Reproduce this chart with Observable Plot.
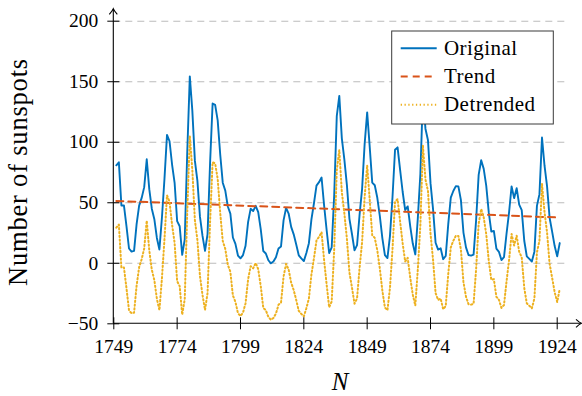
<!DOCTYPE html>
<html>
<head>
<meta charset="utf-8">
<script src="https://cdn.jsdelivr.net/npm/d3@7"></script>
<script src="https://cdn.jsdelivr.net/npm/@observablehq/plot@0.6"></script>
<style>
  html, body { margin: 0; padding: 0; background: white; }
  svg { display: block; }
  svg text { font-family: "Liberation Serif", "DejaVu Serif", serif !important; }
</style>
</head>
<body>
<div id="chart"></div>
<script>
// N values (positions along x) for the 176 yearly observations
const firstN = 1750;

// Original yearly sunspot numbers
const original = [
  80.9, 83.4, 47.7, 47.8, 30.7, 12.2, 9.6, 10.2, 32.4, 47.6, 54,
  62.9, 85.9, 61.2, 45.1, 36.4, 20.9, 11.4, 37.8, 69.8, 106.1,
  100.8, 81.6, 66.5, 34.8, 30.6, 7, 19.8, 92.5, 154.4, 125.9,
  84.8, 68.1, 38.5, 22.8, 10.2, 24.1, 82.9, 132, 130.9, 118.1,
  89.9, 66.6, 60, 46.9, 41, 21.3, 16, 6.4, 4.1, 6.8,
  14.5, 34, 45, 43.1, 47.5, 42.2, 28.1, 10.1, 8.1, 2.5,
  0, 1.4, 5, 12.2, 13.9, 35.4, 45.8, 41.1, 30.1, 23.9,
  15.6, 6.6, 4, 1.8, 8.5, 16.6, 36.3, 49.6, 64.2, 67,
  70.9, 47.8, 27.5, 8.5, 13.2, 56.9, 121.5, 138.3, 103.2, 85.7,
  64.6, 36.7, 24.2, 10.7, 15, 40.1, 61.5, 98.5, 124.7, 96.3,
  66.6, 64.5, 54.1, 39, 20.6, 6.7, 4.3, 22.7, 54.8, 93.8,
  95.8, 77.2, 59.1, 44, 47, 30.5, 16.3, 7.3, 37.6, 74,
  139, 111.2, 101.6, 66.2, 44.7, 17, 11.3, 12.4, 3.4, 6,
  32.3, 54.3, 59.7, 63.7, 63.5, 52.2, 25.4, 13.1, 6.8, 6.3,
  7.1, 35.6, 73, 85.1, 78, 64, 41.8, 26.2, 26.7, 12.1,
  9.5, 2.7, 5, 24.4, 42, 63.5, 53.8, 62, 48.5, 43.9,
  18.6, 5.7, 3.6, 1.4, 9.6, 47.4, 57.1, 103.9, 80.6, 63.6,
  37.6, 26.1, 14.2, 5.8, 16.7
];

// Detrended series (original minus linear trend)
const detrended = [
  29.4, 32.0, -3.6, -3.5, -20.5, -38.9, -41.4, -40.8, -18.5, -3.2, 3.3,
  12.3, 35.3, 10.7, -5.3, -13.9, -29.3, -38.8, -12.3, 19.8, 56.2,
  50.9, 31.8, 16.8, -14.8, -18.9, -42.5, -29.6, 43.2, 105.2, 76.8,
  35.7, 19.1, -10.4, -26.0, -38.6, -24.6, 34.3, 83.5, 82.5, 69.7,
  41.6, 18.4, 11.9, -1.2, -7.0, -26.6, -31.8, -41.3, -43.6, -40.8,
  -33.0, -13.4, -2.4, -4.2, 0.3, -4.9, -18.9, -36.9, -38.8, -44.3,
  -46.7, -45.2, -41.6, -34.3, -32.5, -10.9, -0.5, -5.1, -16.0, -22.1,
  -30.3, -39.3, -41.8, -43.9, -37.1, -29.0, -9.2, 4.2, 18.9, 21.8,
  25.7, 2.7, -17.5, -36.4, -31.6, 12.1, 76.8, 93.7, 58.7, 41.2,
  20.2, -7.6, -20.0, -33.4, -29.1, -3.9, 17.6, 54.7, 81.0, 52.6,
  23.0, 21.0, 10.7, -4.4, -22.7, -36.5, -38.8, -20.3, 11.8, 50.9,
  53.0, 34.5, 16.5, 1.4, 4.5, -11.9, -26.0, -35.0, -4.6, 31.9,
  97.0, 69.3, 59.7, 24.4, 3.0, -24.6, -30.3, -29.1, -38.0, -35.3,
  -8.9, 13.1, 18.6, 22.7, 22.6, 11.3, -15.4, -27.6, -33.8, -34.2,
  -33.4, -4.8, 32.7, 44.9, 37.9, 23.9, 1.8, -13.7, -13.1, -27.7,
  -30.2, -36.9, -34.5, -15.0, 2.6, 24.2, 14.6, 22.9, 9.5, 4.9,
  -20.3, -33.1, -35.1, -37.3, -29.0, 8.9, 18.7, 65.6, 42.3, 25.4,
  -0.5, -11.9, -23.8, -32.1, -21.1
];

// Linear trend: endpoints
const trendN = [1750, 1925];
const trendValues = [51.5, 37.8];

// Axis ticks
const xTicks = [1749, 1774, 1799, 1824, 1849, 1874, 1899, 1924];
const yTicks = [-50, 0, 50, 100, 150, 200];
const gridTicks = [0, 50, 100, 150, 200];

// Labels
const seriesNames = ["Original", "Trend", "Detrended"];
const yLabel = "Number of sunspots";
const xLabel = "N";

const colors = ["#0072BD", "#D95319", "#EDB120"];

const rows = original.map((v, i) => ({N: firstN + i, original: v, detrended: detrended[i]}));
const trendRows = trendN.map((n, i) => ({N: n, value: trendValues[i]}));

const fmtY = d => d < 0 ? "\u2212" + Math.abs(d) : String(d);

const plot = Plot.plot({
  width: 582,
  height: 396,
  marginLeft: 113.3,
  marginRight: 16,
  marginTop: 20.7,
  marginBottom: 72.7,
  x: {domain: [1749, 1924], range: [113.3, 556.7], label: null},
  y: {domain: [-50, 200], label: null},
  style: {fontSize: "19.5px", background: "white", color: "black", overflow: "visible"},
  marks: [
    Plot.gridY(gridTicks, {stroke: "#bcbcbc", strokeOpacity: 1, strokeWidth: 1.1, strokeDasharray: "7,5"}),
    Plot.line(rows, {x: "N", y: "original", stroke: colors[0], strokeWidth: 1.9}),
    Plot.line(trendRows, {x: "N", y: "value", stroke: colors[1], strokeWidth: 2, strokeDasharray: "7,5"}),
    Plot.line(rows, {x: "N", y: "detrended", stroke: colors[2], strokeWidth: 2, strokeDasharray: "1.3,2.5"}),
    Plot.axisY(yTicks, {tickSize: 12, dx: 6, tickFormat: () => "", label: null, stroke: "black"}),
    Plot.axisY(yTicks, {tickSize: 0, tickPadding: 15.6, tickFormat: fmtY, label: null, fontFamily: "Liberation Serif"}),
    Plot.axisX(xTicks, {tickSize: 12, dy: -6, tickFormat: () => "", label: null, stroke: "black"}),
    Plot.axisX(xTicks, {tickSize: 0, tickPadding: 15.5, tickFormat: d => String(d), label: null, fontFamily: "Liberation Serif"})
  ]
});

document.getElementById("chart").appendChild(plot);

// Decorations: axis lines with arrows, axis titles, legend
const svg = d3.select(plot);
const xs = plot.scale("x");
const ys = plot.scale("y");
const x0 = xs.apply(1749);
const y0 = ys.apply(-50);
const g = svg.append("g").attr("text-anchor", "start");

// x axis line + arrow
const xTip = 581.5;
g.append("line").attr("x1", x0).attr("x2", xTip - 0.5).attr("y1", y0).attr("y2", y0)
  .attr("stroke", "black").attr("stroke-width", 1.1);
g.append("path")
  .attr("d", `M${xTip - 5.5},${y0 - 4} Q${xTip - 2},${y0 - 0.8} ${xTip},${y0} Q${xTip - 2},${y0 + 0.8} ${xTip - 5.5},${y0 + 4}`)
  .attr("fill", "none").attr("stroke", "black").attr("stroke-width", 1.1);

// y axis line + arrow
const yTip = 8.8;
g.append("line").attr("x1", x0).attr("x2", x0).attr("y1", y0).attr("y2", yTip + 0.5)
  .attr("stroke", "black").attr("stroke-width", 1.1);
g.append("path")
  .attr("d", `M${x0 - 4},${yTip + 5.5} Q${x0 - 0.8},${yTip + 2} ${x0},${yTip} Q${x0 + 0.8},${yTip + 2} ${x0 + 4},${yTip + 5.5}`)
  .attr("fill", "none").attr("stroke", "black").attr("stroke-width", 1.1);

// y axis title
const yMid = (ys.apply(200) + ys.apply(-50)) / 2;
g.append("text")
  .attr("transform", `translate(27,${yMid}) rotate(-90)`)
  .attr("text-anchor", "middle")
  .attr("font-size", 26.5)
  .attr("letter-spacing", 0.8)
  .attr("fill", "black")
  .style("font-family", "'Liberation Serif', serif")
  .text(yLabel);

// x axis title
g.append("text")
  .attr("x", (xs.apply(1749) + xs.apply(1924)) / 2 + 5)
  .attr("y", 390)
  .attr("text-anchor", "middle")
  .attr("font-style", "italic")
  .attr("font-size", 25)
  .attr("fill", "black")
  .style("font-family", "'Liberation Serif', serif")
  .text(xLabel);

// legend
const lg = g.append("g");
lg.append("rect").attr("x", 391.7).attr("y", 31).attr("width", 161.6).attr("height", 93)
  .attr("fill", "white").attr("stroke", "#3a3a3a").attr("stroke-width", 1);
const dashes = [null, "7,5", "1.3,2.5"];
seriesNames.forEach((name, i) => {
  const cy = 48.3 + i * 28.2;
  lg.append("line").attr("x1", 400.7).attr("x2", 436.7).attr("y1", cy).attr("y2", cy)
    .attr("stroke", colors[i]).attr("stroke-width", i === 0 ? 1.9 : 2)
    .attr("stroke-dasharray", dashes[i]);
  lg.append("text").attr("x", 444).attr("y", cy + 6.5)
    .attr("text-anchor", "start")
    .attr("font-size", 21).attr("letter-spacing", 0.45)
    .attr("fill", "black")
    .style("font-family", "'Liberation Serif', serif")
    .text(name);
});
</script>
</body>
</html>
